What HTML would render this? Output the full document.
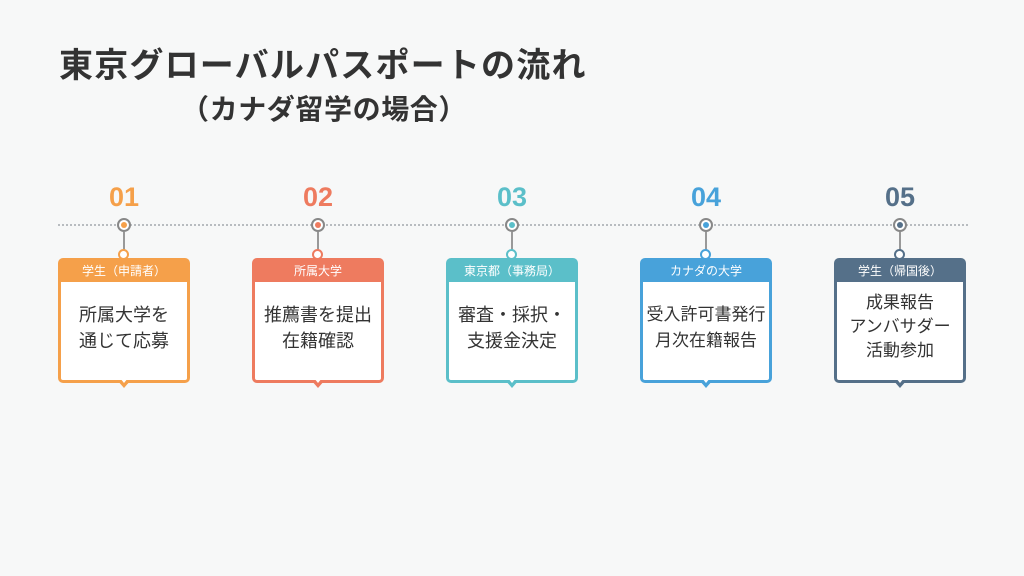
<!DOCTYPE html><html><head><meta charset="utf-8"><style>
body{margin:0;width:1024px;height:576px;background:#f7f8f8;font-family:"Liberation Sans","Noto Sans CJK JP",sans-serif;position:relative;overflow:hidden}
.t{position:absolute;left:59px;top:38px;font-size:34px;font-weight:bold;color:#333;white-space:nowrap;letter-spacing:1.2px}
.s{position:absolute;left:181px;top:88px;font-size:28px;font-weight:bold;color:#333;white-space:nowrap;letter-spacing:0.6px}
.line{position:absolute;left:58px;top:224px;width:910px;border-top:2px dotted #b8bcc0}
.n{position:absolute;top:182px;width:132px;text-align:center;font-size:27px;font-weight:bold}
.dot{position:absolute;top:218px;width:10px;height:10px;border-radius:50%;border:2px solid #888;background:#fff}
.dot i{position:absolute;left:2px;top:2px;width:6px;height:6px;border-radius:50%}
.v{position:absolute;top:232px;width:2px;height:18px;background:#999}
.card{position:absolute;top:258px;width:126px;height:119px;border:3px solid;border-radius:5px;background:#fff}
.h{height:21px;color:#fff;font-size:12px;text-align:center;line-height:20px}
.b{text-align:center;font-size:18px;color:#333;line-height:26px;white-space:nowrap}
.tri{position:absolute;top:380px;width:0;height:0;border-left:7px solid transparent;border-right:7px solid transparent;border-top:8px solid}
.tri:after{content:"";position:absolute;left:-4px;top:-10px;border-left:4px solid transparent;border-right:4px solid transparent;border-top:5px solid #fff}
.c{position:absolute;top:249px;width:7px;height:7px;border-radius:50%;border:2px solid;background:#fff}
</style></head><body>
<div class="t">東京グローバルパスポートの流れ</div>
<div class="s">（カナダ留学の場合）</div>
<div class="line"></div>

<div class="n" style="left:58px;color:#F5A04A">01</div>
<div class="dot" style="left:117px"><i style="background:#F5A04A"></i></div>
<div class="v" style="left:123px"></div>
<div class="card" style="left:58px;border-color:#F5A04A"><div class="h" style="background:#F5A04A">学生（申請者）</div><div class="b" style="padding-top:20px">所属大学を<br>通じて応募</div></div>
<div class="c" style="left:118px;border-color:#F5A04A"></div>
<div class="tri" style="left:117px;border-top-color:#F5A04A"></div>

<div class="n" style="left:252px;color:#EE7B5F">02</div>
<div class="dot" style="left:311px"><i style="background:#EE7B5F"></i></div>
<div class="v" style="left:317px"></div>
<div class="card" style="left:252px;border-color:#EE7B5F"><div class="h" style="background:#EE7B5F">所属大学</div><div class="b" style="padding-top:20px">推薦書を提出<br>在籍確認</div></div>
<div class="c" style="left:312px;border-color:#EE7B5F"></div>
<div class="tri" style="left:311px;border-top-color:#EE7B5F"></div>

<div class="n" style="left:446px;color:#5BBFC9">03</div>
<div class="dot" style="left:505px"><i style="background:#5BBFC9"></i></div>
<div class="v" style="left:511px"></div>
<div class="card" style="left:446px;border-color:#5BBFC9"><div class="h" style="background:#5BBFC9">東京都（事務局）</div><div class="b" style="padding-top:20px">審査・採択・<br>支援金決定</div></div>
<div class="c" style="left:506px;border-color:#5BBFC9"></div>
<div class="tri" style="left:505px;border-top-color:#5BBFC9"></div>

<div class="n" style="left:640px;color:#48A2DA">04</div>
<div class="dot" style="left:699px"><i style="background:#48A2DA"></i></div>
<div class="v" style="left:705px"></div>
<div class="card" style="left:640px;border-color:#48A2DA"><div class="h" style="background:#48A2DA">カナダの大学</div><div class="b" style="padding-top:20px;font-size:17px">受入許可書発行<br>月次在籍報告</div></div>
<div class="c" style="left:700px;border-color:#48A2DA"></div>
<div class="tri" style="left:699px;border-top-color:#48A2DA"></div>

<div class="n" style="left:834px;color:#557089">05</div>
<div class="dot" style="left:893px"><i style="background:#557089"></i></div>
<div class="v" style="left:899px"></div>
<div class="card" style="left:834px;border-color:#557089"><div class="h" style="background:#557089">学生（帰国後）</div><div class="b" style="padding-top:9px;line-height:24px;font-size:17px">成果報告<br>アンバサダー<br>活動参加</div></div>
<div class="c" style="left:894px;border-color:#557089"></div>
<div class="tri" style="left:893px;border-top-color:#557089"></div>
</body></html>
